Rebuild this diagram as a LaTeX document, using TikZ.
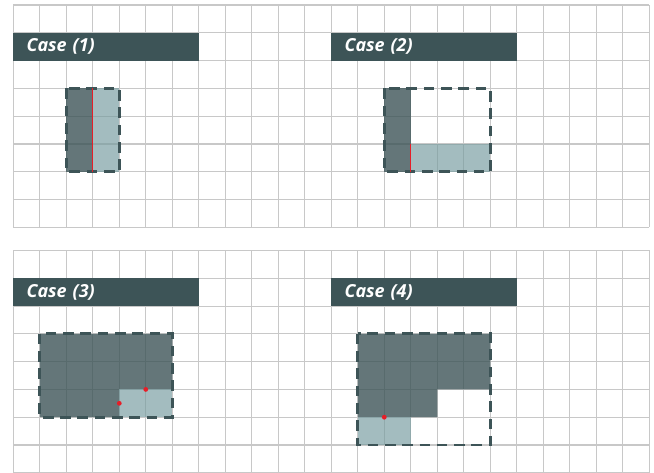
\documentclass[tikz,border=0pt]{standalone}
\usepackage{fontspec}
\setsansfont{Open Sans}
\usepackage{tikz}
\usetikzlibrary{positioning}
\definecolor{slate}{RGB}{61,84,87}
\definecolor{slatelight}{RGB}{120,156,160}
\definecolor{gridgrey}{RGB}{200,200,200}
\definecolor{markred}{RGB}{230,30,40}

\begin{document}
\begin{tikzpicture}[x=0.7cm, y=-0.7343cm,
    gridline/.style={gridgrey, line width=0.8pt},
    bar/.style={rectangle, fill=slate, text=white, anchor=north west,
        text width=4.2cm, inner xsep=0.35cm, inner ysep=0pt, outer sep=0pt,
        minimum height=0.7343cm, align=left,
        font=\sffamily\bfseries\itshape\fontsize{13.5}{16}\selectfont},
    darkcell/.style={fill=slate, fill opacity=0.8},
    lightcell/.style={fill=slatelight, fill opacity=0.68},
    frame/.style={draw=slate, line width=2.2pt, dash pattern=on 8pt off 5pt},
    redline/.style={markred, line width=0.9pt},
    reddot/.style={circle, fill=markred, inner sep=0pt, minimum size=3.6pt}
]
    \useasboundingbox (-0.502,-0.18) rectangle (24.18,16.83);

    % Top half
    \foreach \i in {0,...,24} \draw[gridline] (\i,0) -- (\i,8);
    \foreach \j in {0,...,8} \draw[gridline] (0,\j) -- (24,\j);

    \node[bar] (case1) at (0,1) {Case (1)};
    \node[bar] (case2) at (12,1) {Case (2)};

    % Case (1)
    \fill[darkcell] (2,3) rectangle (3,6);
    \fill[lightcell] (3,3) rectangle (4,6);
    \draw[frame] (2,3) rectangle (4,6);
    \draw[redline] (3,3) -- (3,6);

    % Case (2)
    \fill[darkcell] (14,3) rectangle (15,6);
    \fill[lightcell] (15,5) rectangle (18,6);
    \draw[frame] (14,3) rectangle (18,6);
    \draw[redline] (15,5) -- (15,6);

    % Bottom half
    \begin{scope}[shift={(0,8.83)}]
        \foreach \i in {0,...,24} \draw[gridline] (\i,0) -- (\i,8);
        \foreach \j in {0,...,8} \draw[gridline] (0,\j) -- (24,\j);

        \node[bar] (case3) at (0,1) {Case (3)};
        \node[bar] (case4) at (12,1) {Case (4)};

        % Case (3)
        \fill[darkcell] (1,3) -- (6,3) -- (6,5) -- (4,5) -- (4,6) -- (1,6) -- cycle;
        \fill[lightcell] (4,5) rectangle (6,6);
        \draw[frame] (1,3) rectangle (6,6);
        \node[reddot] (top3) at (5,5) {};
        \node[reddot] (left3) at (4,5.5) {};

        % Case (4)
        \fill[darkcell] (13,3) -- (18,3) -- (18,5) -- (16,5) -- (16,6) -- (13,6) -- cycle;
        \fill[lightcell] (13,6) rectangle (15,7);
        \draw[frame] (13,3) rectangle (18,7);
        \node[reddot] (top4) at (14,6) {};
    \end{scope}
\end{tikzpicture}
\end{document}
